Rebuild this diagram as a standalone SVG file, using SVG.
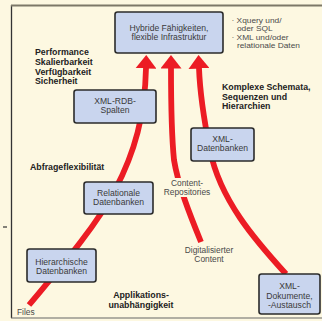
<svg xmlns="http://www.w3.org/2000/svg" width="322" height="321" viewBox="0 0 322 321">
<defs>
<style>
.bg{fill:#FDF8E1}
.box{fill:#C9D5EE;stroke:#2b2b2b;stroke-width:1.6}
.bt{font-family:"Liberation Sans",Arial,sans-serif;font-size:8.6px;fill:#3a3a3a;text-anchor:middle}
.lb{font-family:"Liberation Sans",Arial,sans-serif;font-size:8.8px;font-weight:bold;fill:#222}
.lt{font-family:"Liberation Sans",Arial,sans-serif;font-size:8.4px;fill:#4a4a4a}
.red{fill:none;stroke:#EC1C24;stroke-width:5.8;stroke-linecap:butt}
</style>
<marker id="ah" markerUnits="userSpaceOnUse" markerWidth="14" markerHeight="21" viewBox="0 0 14 21" refX="0.5" refY="10.5" orient="auto">
<path d="M0,0 L13.5,10.5 L0,21 z" fill="#EC1C24"/>
</marker>
</defs>
<rect class="bg" x="0" y="0" width="322" height="321"/>
<g id="frame">
<line x1="11.5" y1="5" x2="11.5" y2="318" stroke="#333" stroke-width="1.3"/>
<line x1="11" y1="5.5" x2="322" y2="5.5" stroke="#7d7868" stroke-width="2"/>
<line x1="11" y1="318" x2="322" y2="318" stroke="#666" stroke-width="1.2"/>
<line x1="3" y1="227" x2="7" y2="227" stroke="#333" stroke-width="1.2"/>
</g>
<g id="connectors">
<path class="red" d="M29,305 C60,268 95,228 115,190 C135,152 145,115 146,68" marker-end="url(#ah)"/>
<path class="red" d="M201,242 C190,215 178,185 174,160 C171,130 171,100 171,68" marker-end="url(#ah)"/>
<path class="red" d="M286,274 C255,240 220,200 210,150 C204,120 200,95 199,68" marker-end="url(#ah)"/>
</g>
<g id="n-hybrid">
<rect class="box" x="115" y="12" width="108" height="41" rx="2.5"/>
<text class="bt" x="169" y="31">Hybride Fähigkeiten,</text>
<text class="bt" x="169" y="39.5">flexible Infrastruktur</text>
</g>
<g id="n-xmlrdb">
<rect class="box" x="74" y="90" width="82" height="33" rx="2.5"/>
<text class="bt" x="115" y="104">XML-RDB-</text>
<text class="bt" x="115" y="113">Spalten</text>
</g>
<g id="n-xmldb">
<rect class="box" x="191" y="128" width="63" height="33" rx="2.5"/>
<text class="bt" x="222.5" y="142">XML-</text>
<text class="bt" x="222.5" y="151">Datenbanken</text>
</g>
<g id="n-rel">
<rect class="box" x="84" y="182" width="69" height="32" rx="2.5"/>
<text class="bt" x="118.5" y="196">Relationale</text>
<text class="bt" x="118.5" y="205">Datenbanken</text>
</g>
<g id="n-hier">
<rect class="box" x="27" y="249" width="69" height="33" rx="2.5"/>
<text class="bt" x="61.5" y="264.5">Hierarchische</text>
<text class="bt" x="61.5" y="273.5">Datenbanken</text>
</g>
<g id="n-xmldoc">
<rect class="box" x="259" y="274" width="61" height="40" rx="2.5"/>
<text class="bt" x="289.5" y="289">XML-</text>
<text class="bt" x="289.5" y="298.5">Dokumente,</text>
<text class="bt" x="289.5" y="308">-Austausch</text>
</g>
<g id="labels">
<text class="lb" x="35" y="55">Performance</text>
<text class="lb" x="35" y="65">Skalierbarkeit</text>
<text class="lb" x="35" y="74.5">Verfügbarkeit</text>
<text class="lb" x="35" y="84">Sicherheit</text>
<text class="lt" style="font-size:7.2px" transform="translate(231.5 0) scale(1.16 1)"><tspan x="0" y="23.2">· Xquery und/</tspan><tspan x="4.7" y="31.5">oder SQL</tspan><tspan x="0" y="39.8">· XML und/oder</tspan><tspan x="4.7" y="48.1">relationale Daten</tspan></text>
<text class="lb" x="222" y="90">Komplexe Schemata,</text>
<text class="lb" x="222" y="100">Sequenzen und</text>
<text class="lb" x="222" y="109">Hierarchien</text>
<text class="lb" x="30" y="170">Abfrageflexibilität</text>
<rect class="bg" x="166" y="178" width="44" height="19"/>
<text class="lt" x="187" y="186" text-anchor="middle">Content-</text>
<text class="lt" x="187" y="194.5" text-anchor="middle">Repositories</text>
<text class="lt" x="209" y="253" text-anchor="middle">Digitalisierter</text>
<text class="lt" x="209" y="261.5" text-anchor="middle">Content</text>
<text class="lb" x="141" y="298" text-anchor="middle">Applikations-</text>
<text class="lb" x="141" y="307.5" text-anchor="middle">unabhängigkeit</text>
<text class="lt" x="17" y="315">Files</text>
</g>
</svg>
